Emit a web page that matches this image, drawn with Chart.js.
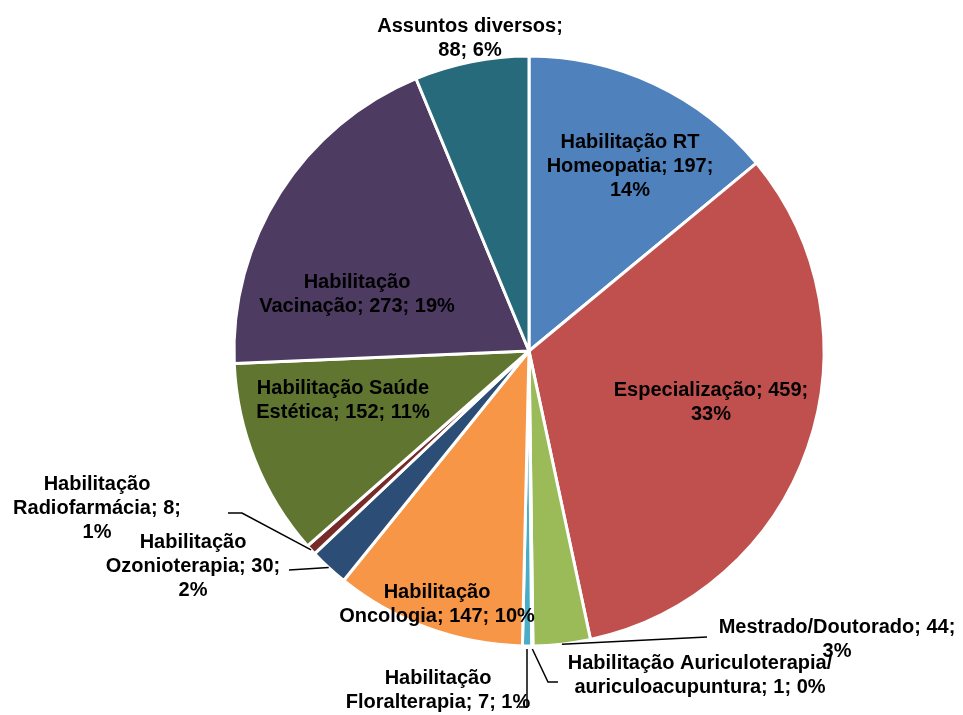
<!DOCTYPE html>
<html>
<head>
<meta charset="utf-8">
<script src="https://cdn.jsdelivr.net/npm/chart.js@4/dist/chart.umd.min.js"></script>
<style>
  html, body { margin: 0; padding: 0; background: #fff; }
  #c { display: block; }
</style>
</head>
<body>
<canvas id="c" width="963" height="715"></canvas>
<script>
// dados (sentido horário a partir do topo)
const categories = [
  'Habilitação RT Homeopatia',
  'Especialização',
  'Mestrado/Doutorado',
  'Habilitação Auriculoterapia/ auriculoacupuntura',
  'Habilitação Floralterapia',
  'Habilitação Oncologia',
  'Habilitação Ozonioterapia',
  'Habilitação Radiofarmácia',
  'Habilitação Saúde Estética',
  'Habilitação Vacinação',
  'Assuntos diversos',
];
const values = [197, 459, 44, 1, 7, 147, 30, 8, 152, 273, 88];
const percents = ['14%', '33%', '3%', '0%', '1%', '10%', '2%', '1%', '11%', '19%', '6%'];

const colors = [
  '#4F81BD', '#C0504D', '#9BBB59', '#8064A2', '#4BACC6', '#F79646',
  '#2C4D75', '#772C2A', '#5F7530', '#4D3B62', '#276A7C',
];

// posição dos rótulos (centro do bloco de texto), largura de quebra e linhas de chamada
const labelLayout = [
  { x: 630, y: 166, w: 175 },
  { x: 711, y: 402, w: 210 },
  { x: 837, y: 639, w: 260, leader: [[707, 637]] },
  { x: 700, y: 675, w: 290, leader: [[548, 682], [558, 682]], gap: 3 },
  { x: 438, y: 690, w: 200, leader: [[527, 707], [519, 707]], gap: 3 },
  { x: 437, y: 604, w: 205 },
  { x: 193, y: 566, w: 185, leader: [[289, 570]] },
  { x: 97, y: 508, w: 180, leader: [[242, 513], [228, 513]] },
  { x: 343, y: 400, w: 185 },
  { x: 357, y: 294, w: 205 },
  { x: 470, y: 38, w: 195 },
];

const FONT = 'bold 20px "Liberation Sans", Arial, sans-serif';
const LINE_H = 24;

function wrap(ctx, text, maxW) {
  const words = text.split(' ');
  const lines = [];
  let cur = '';
  words.forEach((w) => {
    const test = cur ? cur + ' ' + w : w;
    if (cur && ctx.measureText(test).width > maxW) {
      lines.push(cur);
      cur = w;
    } else {
      cur = test;
    }
  });
  if (cur) lines.push(cur);
  return lines;
}

const pieLabels = {
  id: 'pieLabels',
  afterDatasetsDraw(chart) {
    const ctx = chart.ctx;
    const arcs = chart.getDatasetMeta(0).data;
    ctx.save();
    ctx.font = FONT;
    ctx.fillStyle = '#000';
    ctx.textAlign = 'center';
    ctx.textBaseline = 'middle';
    arcs.forEach((arc, i) => {
      const lay = labelLayout[i];
      if (lay.leader) {
        const mid = (arc.startAngle + arc.endAngle) / 2;
        const r = arc.outerRadius + (lay.gap || 0);
        ctx.beginPath();
        ctx.strokeStyle = '#000';
        ctx.lineWidth = 1.5;
        ctx.moveTo(arc.x + Math.cos(mid) * r, arc.y + Math.sin(mid) * r);
        lay.leader.forEach(([px, py]) => ctx.lineTo(px, py));
        ctx.stroke();
      }
      const text = `${categories[i]}; ${values[i]}; ${percents[i]}`;
      const lines = wrap(ctx, text, lay.w);
      const top = lay.y - ((lines.length - 1) * LINE_H) / 2;
      lines.forEach((ln, k) => ctx.fillText(ln, lay.x, top + k * LINE_H));
    });
    ctx.restore();
  },
};

new Chart(document.getElementById('c').getContext('2d'), {
  type: 'pie',
  data: {
    labels: categories,
    datasets: [{
      data: values,
      backgroundColor: colors,
      borderColor: '#ffffff',
      borderWidth: 3,
    }],
  },
  options: {
    responsive: false,
    animation: false,
    radius: 295,
    layout: { padding: { left: 95, right: 0, top: 0, bottom: 13 } },
    plugins: {
      legend: { display: false },
      tooltip: { enabled: false },
    },
  },
  plugins: [pieLabels],
});
</script>
</body>
</html>
